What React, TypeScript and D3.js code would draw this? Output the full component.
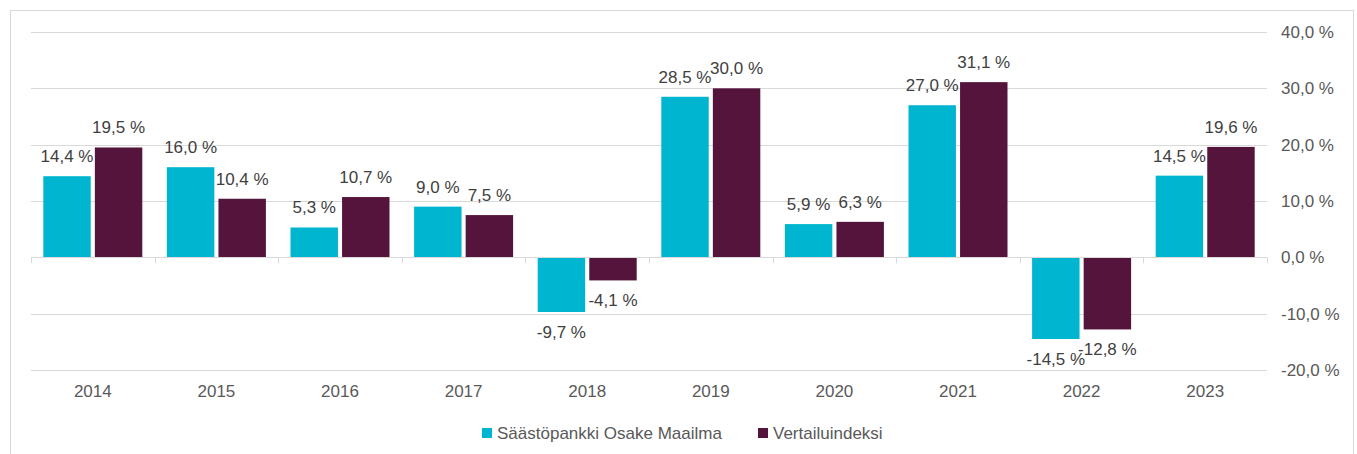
import React from "react";
import * as d3 from "d3";

const years = ["2014", "2015", "2016", "2017", "2018", "2019", "2020", "2021", "2022", "2023"];
const fund = [14.4, 16.0, 5.3, 9.0, -9.7, 28.5, 5.9, 27.0, -14.5, 14.5];
const index = [19.5, 10.4, 10.7, 7.5, -4.1, 30.0, 6.3, 31.1, -12.8, 19.6];
const yTicks = [40, 30, 20, 10, 0, -10, -20];
const seriesNames = ["Säästöpankki Osake Maailma", "Vertailuindeksi"];
const colors = ["#00B5CF", "#55143B"];

const W = 1357;
const H = 454;
const fmt = (v: number) => v.toFixed(1).replace(".", ",") + " %";
const FONT = "'Liberation Sans', Arial, sans-serif";
const TXT = "#595959";
const FS = 17;

export default function App() {
  const x0 = d3.scaleBand<string>().domain(years).range([31, 1267]).paddingInner(0).paddingOuter(0);
  const x1 = d3.scaleBand<string>().domain(["0", "1"]).range([12.3, x0.bandwidth() - 12.3]).paddingInner(0.08);
  const y = d3.scaleLinear().domain([-20, 40]).range([370, 32]);
  const series = [fund, index];

  return (
    <svg width={W} height={H} style={{ position: "absolute", left: 0, top: 0 }} fontFamily={FONT}>
      <rect x={0} y={0} width={W} height={H} fill="#fff" />
      <rect x={10.5} y={10.5} width={1343} height={460} fill="none" stroke="#D9D9D9" strokeWidth={1} />
      {yTicks.map((t) => (
        <g key={t}>
          {t !== 0 && (
            <line x1={31} x2={1267} y1={Math.round(y(t)) + 0.5} y2={Math.round(y(t)) + 0.5} stroke="#D9D9D9" strokeWidth={1} />
          )}
          <text x={1281} y={y(t)} dy="0.35em" fontSize={FS} fill={TXT}>
            {fmt(t)}
          </text>
        </g>
      ))}
      {years.map((yr, i) => (
        <g key={yr} transform={`translate(${x0(yr)},0)`}>
          {series.map((s, k) => {
            const v = s[i];
            const bx = x1(String(k))!;
            const bw = x1.bandwidth();
            const top = y(Math.max(0, v));
            const h = Math.abs(y(v) - y(0));
            const ly = v >= 0 ? y(v) - 20 : y(v) + 20;
            return (
              <g key={k}>
                <rect x={bx} y={top} width={bw} height={h} fill={colors[k]} />
                <text x={bx + bw / 2} y={ly} dy="0.35em" textAnchor="middle" fontSize={FS} fill="#404040">
                  {fmt(v)}
                </text>
              </g>
            );
          })}
          <text x={x0.bandwidth() / 2} y={391} dy="0.35em" textAnchor="middle" fontSize={FS} fill={TXT}>
            {yr}
          </text>
        </g>
      ))}
      <line x1={31} x2={1267} y1={Math.round(y(0)) + 0.5} y2={Math.round(y(0)) + 0.5} stroke="#D9D9D9" strokeWidth={1} />
      {d3.range(years.length + 1).map((i) => {
        const xx = Math.round(31 + i * x0.bandwidth()) + 0.5;
        return <line key={i} x1={xx} x2={xx} y1={y(0)} y2={y(0) + 6} stroke="#D9D9D9" strokeWidth={1} />;
      })}
      {seriesNames.map((n, k) => {
        const lx = k === 0 ? 482 : 758;
        return (
          <g key={n}>
            <rect x={lx} y={428} width={10} height={10} fill={colors[k]} />
            <text x={lx + 15} y={433} dy="0.35em" fontSize={FS} fill={TXT}>
              {n}
            </text>
          </g>
        );
      })}
    </svg>
  );
}
